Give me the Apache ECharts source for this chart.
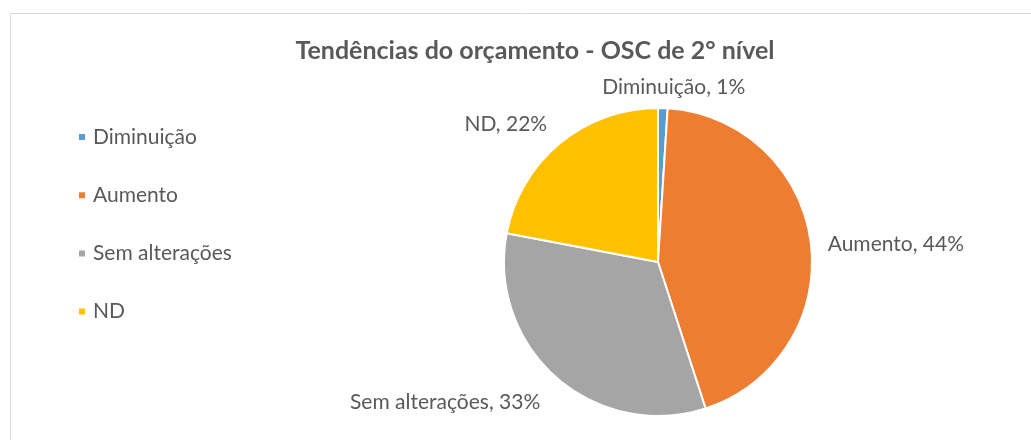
<!DOCTYPE html>
<html>
<head>
<meta charset="utf-8">
<script src="https://cdn.jsdelivr.net/npm/echarts@6/dist/echarts.min.js"></script>
<style>
  html, body { margin: 0; padding: 0; background: #fff; }
  #chart { width: 1031px; height: 440px; }
</style>
</head>
<body>
<div id="chart"></div>
<script>
const titleText = 'Tendências do orçamento - OSC de 2° nível'
const categories = ['Diminuição', 'Aumento', 'Sem alterações', 'ND']
const shares = [1, 44, 33, 22]
const sliceColors = ['#5b9bd5', '#ed7d31', '#a5a5a5', '#ffc000']

const textColor = '#595959'
const fontFamily = 'Lato, "Open Sans", sans-serif'

// nudges so the outside labels sit where Excel put them
const labelShift = [[-70, -9], [-4, 3], [1, 16], [4, -10]]

const chart = echarts.init(document.getElementById('chart'))

chart.setOption({
  backgroundColor: '#fff',
  animation: false,
  textStyle: { fontFamily },
  graphic: [{
    type: 'rect',
    shape: { x: 10.5, y: 13.5, width: 1040, height: 460 },
    style: { fill: 'none', stroke: '#d9d9d9', lineWidth: 1 },
    silent: true,
  }],
  title: {
    text: titleText,
    left: 530,
    top: 33,
    textAlign: 'center',
    textStyle: { color: textColor, fontSize: 25, fontWeight: 'bold', fontFamily },
  },
  legend: {
    orient: 'vertical',
    left: 72,
    top: 121.5,
    itemGap: 37.2,
    itemWidth: 8,
    itemHeight: 8,
    icon: 'rect',
    data: categories,
    textStyle: { color: textColor, fontSize: 21, fontFamily, padding: [0, 0, 0, 2] },
  },
  series: [{
    type: 'pie',
    center: [658, 262],
    radius: 154,
    startAngle: 90,
    clockwise: true,
    data: categories.map((name, i) => ({
      name,
      value: shares[i],
      itemStyle: { color: sliceColors[i] },
    })),
    itemStyle: { borderColor: '#fff', borderWidth: 2 },
    label: {
      show: true,
      position: 'outside',
      formatter: (p) => `${p.name}, ${p.value}%`,
      color: textColor,
      fontSize: 21,
      fontFamily,
    },
    labelLine: { show: false, length: 12, length2: 4 },
    labelLayout: (params) => ({
      dx: labelShift[params.dataIndex][0],
      dy: labelShift[params.dataIndex][1],
    }),
    emphasis: { disabled: true },
  }],
})
</script>
</body>
</html>
